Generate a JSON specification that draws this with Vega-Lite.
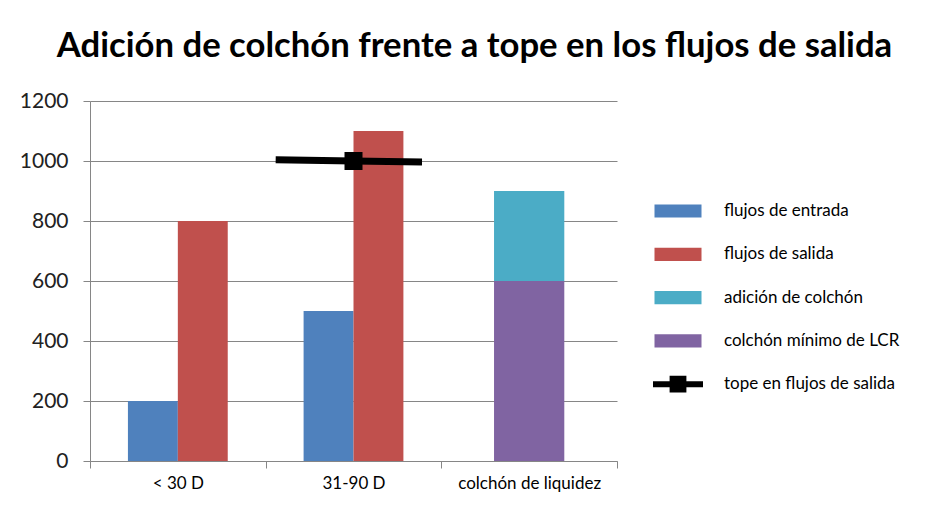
{
  "$schema": "https://vega.github.io/schema/vega-lite/v6.json",
  "width": 527,
  "height": 360,
  "autosize": "none",
  "padding": {"left": 90, "top": 101, "right": 316, "bottom": 61},
  "background": "white",
  "title": {
    "text": "Adición de colchón frente a tope en los flujos de salida",
    "font": "Lato", "fontSize": 34.7, "fontWeight": "bold", "color": "black",
    "anchor": "middle", "dx": 121, "offset": 25
  },
  "datasets": {
    "barras": [
      {"categoria": "< 30 D", "serie": "flujos de entrada", "valor": 200},
      {"categoria": "< 30 D", "serie": "flujos de salida", "valor": 800},
      {"categoria": "31-90 D", "serie": "flujos de entrada", "valor": 500},
      {"categoria": "31-90 D", "serie": "flujos de salida", "valor": 1100},
      {"categoria": "colchón de liquidez", "serie": "colchón mínimo de LCR", "valor": 600},
      {"categoria": "colchón de liquidez", "serie": "adición de colchón", "valor": 300}
    ],
    "tope": [
      {"categoria": "31-90 D", "serie": "tope en flujos de salida", "posicion": 0.057, "valor": 1004},
      {"categoria": "31-90 D", "serie": "tope en flujos de salida", "posicion": 0.5, "valor": 1000},
      {"categoria": "31-90 D", "serie": "tope en flujos de salida", "posicion": 0.89, "valor": 997}
    ]
  },
  "encoding": {
    "x": {
      "field": "categoria", "type": "nominal", "sort": null,
      "scale": {"domain": ["< 30 D", "31-90 D", "colchón de liquidez"], "paddingInner": 0, "paddingOuter": 0},
      "axis": {"title": null, "labelAngle": 0, "labelFont": "Lato", "labelFontSize": 17, "labelColor": "black", "labelPadding": 7, "tickBand": "extent", "tickSize": 7, "tickColor": "#868686", "domainColor": "#868686", "grid": false}
    },
    "y": {
      "field": "valor", "type": "quantitative",
      "scale": {"domain": [0, 1200], "nice": false},
      "axis": {"title": null, "values": [0, 200, 400, 600, 800, 1000, 1200], "format": "d", "labelFont": "Lato", "labelFontSize": 21, "labelColor": "#222222", "labelPadding": 15, "tickSize": 7, "tickColor": "#868686", "domainColor": "#868686", "grid": true, "gridColor": "#868686"}
    }
  },
  "layer": [
    {
      "data": {"name": "barras"},
      "transform": [{"filter": "datum.categoria !== 'colchón de liquidez'"}],
      "mark": {"type": "bar"},
      "encoding": {
        "xOffset": {"field": "serie", "type": "nominal", "scale": {"domain": ["flujos de entrada", "flujos de salida"], "paddingInner": 0, "paddingOuter": 0.76}},
        "color": {
          "field": "serie", "type": "nominal",
          "scale": {
            "domain": ["flujos de entrada", "flujos de salida", "adición de colchón", "colchón mínimo de LCR", "tope en flujos de salida"],
            "range": ["#4F81BD", "#C0504D", "#4BACC6", "#8064A2", "#000000"]
          },
          "legend": {
            "orient": "none", "legendX": 568, "legendY": 90, "title": null, "padding": 0,
            "symbolSize": 1600, "rowPadding": 15.3, "labelOffset": 26, "labelLimit": 0,
            "labelFontSize": 17, "labelFont": "Lato", "labelColor": "black",
            "encode": {
              "symbols": {
                "update": {
                  "shape": {"signal": "datum.value === 'tope en flujos de salida' ? 'M-1.25,-0.15H1.25V0.15H-1.25Z M-0.42,-0.42H0.42V0.42H-0.42Z' : 'M-1.175,-0.33H1.175V0.33H-1.175Z'"},
                  "fill": {"signal": "scale('color', datum.value)"},
                  "strokeWidth": {"value": 0},
                  "opacity": {"value": 1}
                }
              }
            }
          }
        }
      }
    },
    {
      "data": {"name": "barras"},
      "transform": [{"filter": "datum.categoria === 'colchón de liquidez'"}],
      "mark": {"type": "bar", "width": {"band": 0.4}},
      "encoding": {
        "color": {"field": "serie", "type": "nominal"},
        "order": {"field": "serie", "sort": "descending"}
      }
    },
    {
      "data": {"name": "tope"},
      "mark": {"type": "line", "strokeWidth": 7, "strokeCap": "butt"},
      "encoding": {
        "xOffset": {"field": "posicion", "type": "quantitative", "scale": {"domain": [0, 1]}},
        "color": {"field": "serie", "type": "nominal"},
        "order": {"field": "posicion"}
      }
    },
    {
      "data": {"name": "tope"},
      "transform": [{"filter": "datum.posicion === 0.5"}],
      "mark": {"type": "point", "shape": "square", "size": 324, "filled": true, "opacity": 1},
      "encoding": {
        "color": {"field": "serie", "type": "nominal"}
      }
    }
  ],
  "resolve": {"scale": {"xOffset": "independent"}},
  "config": {
    "view": {"stroke": null}
  }
}
